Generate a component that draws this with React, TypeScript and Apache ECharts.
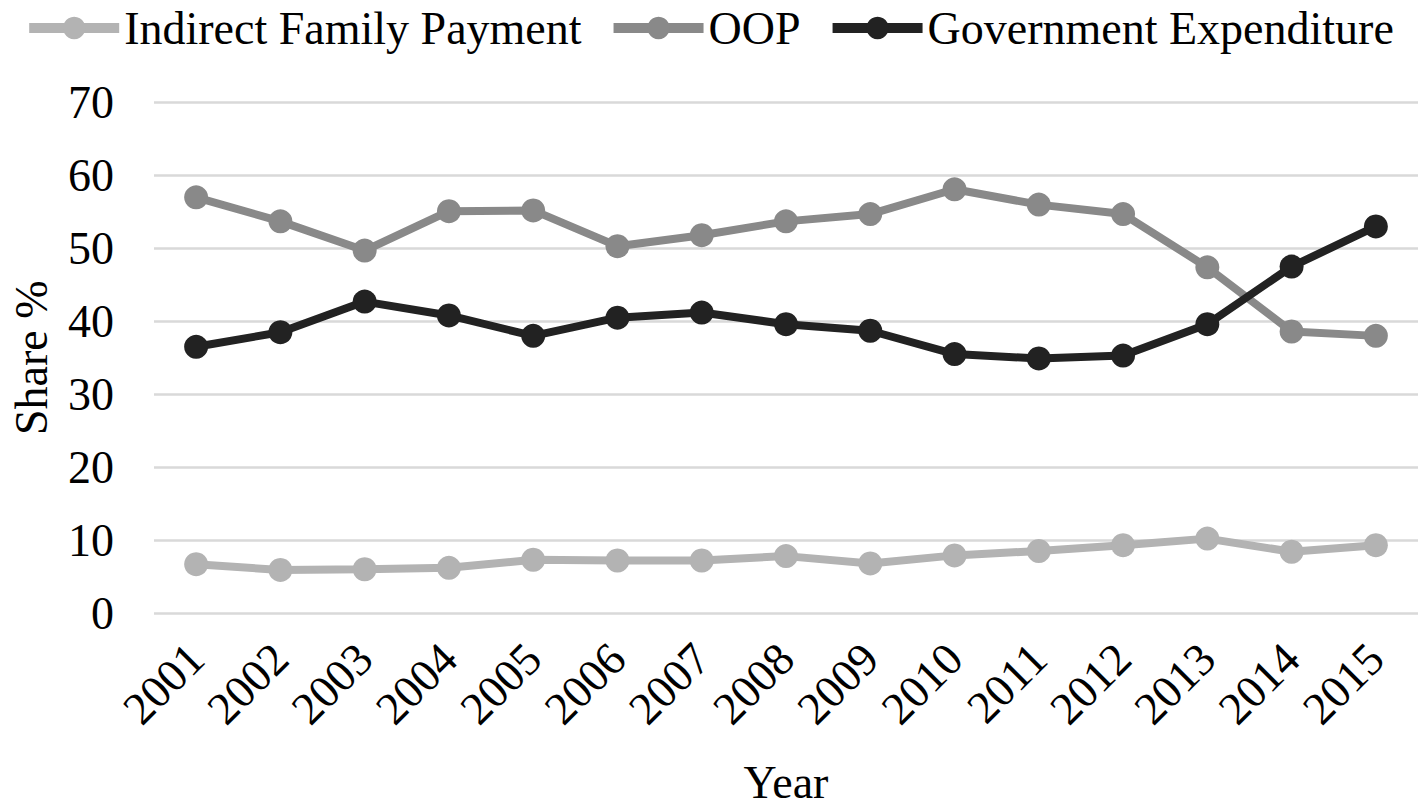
import React, { useEffect, useRef } from "react";
import * as echarts from "echarts";

const years = ["2001","2002","2003","2004","2005","2006","2007","2008","2009","2010","2011","2012","2013","2014","2015"];
const indirectFamily = [6.7, 5.9, 6.0, 6.2, 7.3, 7.2, 7.2, 7.8, 6.8, 7.9, 8.5, 9.3, 10.2, 8.4, 9.3];
const oop = [57.0, 53.7, 49.7, 55.1, 55.2, 50.3, 51.8, 53.7, 54.7, 58.1, 56.0, 54.7, 47.4, 38.6, 38.0];
const government = [36.5, 38.5, 42.7, 40.8, 38.0, 40.5, 41.2, 39.6, 38.7, 35.5, 34.9, 35.3, 39.6, 47.5, 53.0];

const seriesNames = ["Indirect Family Payment", "OOP", "Government Expenditure"];
const seriesColors = ["#b3b3b3", "#898989", "#222222"];
const seriesData = [indirectFamily, oop, government];

const FONT = "'Liberation Serif', 'Times New Roman', serif";

export default function App() {
  const ref = useRef<HTMLDivElement>(null);
  useEffect(() => {
    if (!ref.current) return;
    const chart = echarts.init(ref.current, null, { renderer: "svg" });
    chart.setOption({
      animation: false,
      backgroundColor: "#ffffff",
      textStyle: { fontFamily: FONT, color: "#000" },
      legend: {
        top: 0,
        left: "center",
        itemWidth: 90,
        itemHeight: 28,
        itemGap: 27,
        lineStyle: { width: 10 },
        textStyle: { fontFamily: FONT, fontSize: 46, lineHeight: 40, color: "#000" },
        data: seriesNames,
      },
      grid: { left: 141, right: 0, top: 102.5, bottom: 187.7, containLabel: false },
      xAxis: {
        type: "category",
        data: years,
        boundaryGap: true,
        axisLine: { show: false },
        axisTick: { show: false },
        axisLabel: { interval: 0, rotate: 45, margin: 38, fontSize: 46, color: "#000", fontFamily: FONT },
        name: "Year",
        nameLocation: "middle",
        nameGap: 146,
        nameTextStyle: { fontSize: 46, color: "#000", fontFamily: FONT },
      },
      yAxis: {
        type: "value",
        min: 0,
        max: 70,
        interval: 10,
        axisLine: { show: false },
        axisTick: { show: false },
        axisLabel: { margin: 40, fontSize: 46, color: "#000", fontFamily: FONT },
        splitLine: { lineStyle: { color: "#d9d9d9", width: 2.5 } },
        name: "Share %",
        nameLocation: "middle",
        nameGap: 100,
        nameTextStyle: { fontSize: 46, color: "#000", fontFamily: FONT },
      },
      series: seriesNames.map((name, i) => ({
        name,
        type: "line",
        data: seriesData[i],
        symbol: "circle",
        symbolSize: 24,
        lineStyle: { color: seriesColors[i], width: 8 },
        itemStyle: { color: seriesColors[i] },
        z: 2 + i,
      })),
    });
    return () => chart.dispose();
  }, []);
  return <div ref={ref} style={{ position: "absolute", left: 0, top: 0, width: 1418, height: 810 }} />;
}
